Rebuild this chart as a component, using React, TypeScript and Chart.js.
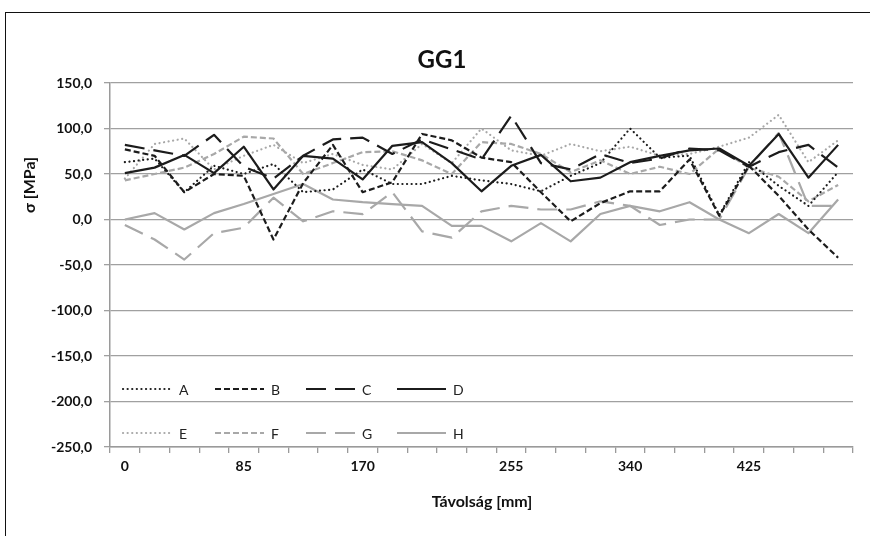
import React, { useEffect, useRef } from 'react';
import { Chart, registerables } from 'chart.js';

Chart.register(...registerables);

// ---- data ----
const distanceLabels = ['0', '', '', '', '85', '', '', '', '170', '', '', '', '', '255', '', '', '', '340', '', '', '', '425', '', '', ''];
const seriesNames = ['A', 'B', 'C', 'D', 'E', 'F', 'G', 'H'];
const seriesA = [63, 67, 30, 59, 50, 61, 30, 33, 55, 39, 39, 48, 43, 39, 31, 48, 62, 100, 68, 70, 5, 63, 37, 15, 52];
const seriesB = [77, 70, 30, 50, 48, -22, 40, 82, 30, 41, 94, 87, 68, 63, 30, -2, 18, 31, 31, 66, 4, 59, 26, -11, -42];
const seriesC = [82, 76, 70, 93, 58, 45, 70, 88, 90, 72, 88, 77, 66, 114, 62, 55, 72, 62, 67, 78, 76, 58, 74, 82, 57];
const seriesD = [51, 57, 71, 51, 80, 33, 70, 67, 44, 81, 85, 62, 31, 59, 71, 42, 46, 63, 70, 76, 78, 59, 94, 46, 82];
const seriesE = [45, 83, 89, 55, 70, 82, 62, 72, 60, 55, 83, 62, 100, 76, 70, 83, 75, 80, 70, 72, 80, 90, 115, 63, 87];
const seriesF = [43, 50, 57, 72, 91, 89, 50, 62, 74, 75, 65, 50, 85, 83, 72, 52, 65, 50, 58, 50, 78, 57, 47, 20, 38];
const seriesG = [-6, -22, -44, -15, -9, 24, -2, 9, 6, 30, -13, -20, 9, 15, 11, 11, 20, 15, -6, 0, 0, 58, 95, 15, 15];
const seriesH = [0, 7, -11, 7, 17, 28, 39, 22, 19, 17, 15, -7, -7, -24, -4, -24, 6, 15, 9, 19, 0, -15, 6, -15, 22];
const yMin = -250;
const yMax = 150;
const yStep = 50;
const chartTitle = 'GG1';
const xTitle = 'Távolság [mm]';
const yTitle = 'σ [MPa]';

const allSeries = [seriesA, seriesB, seriesC, seriesD, seriesE, seriesF, seriesG, seriesH];

const BLACK = '#1c1c1c';
const GRAY = '#a8a8a8';
const FONT = 'Lato, "Open Sans", sans-serif';

const styles = [
  { color: BLACK, dash: [0.1, 4.5], cap: 'round' },
  { color: BLACK, dash: [6, 3], cap: 'butt' },
  { color: BLACK, dash: [20, 9], cap: 'butt' },
  { color: BLACK, dash: [], cap: 'butt' },
  { color: GRAY, dash: [0.1, 4.5], cap: 'round' },
  { color: GRAY, dash: [6, 3], cap: 'butt' },
  { color: GRAY, dash: [20, 9], cap: 'butt' },
  { color: GRAY, dash: [], cap: 'butt' },
];

const decorPlugin = {
  id: 'decor',
  afterDatasetsDraw(chart: any) {
    const ctx = chart.ctx as CanvasRenderingContext2D;
    // legend inside plot
    const cols = [123, 215, 306, 397];
    const rows = [389, 433];
    chart.data.datasets.forEach((ds: any, i: number) => {
      const x = cols[i % 4];
      const y = rows[Math.floor(i / 4)];
      ctx.save();
      ctx.strokeStyle = ds.borderColor;
      ctx.lineWidth = ds.borderWidth;
      ctx.setLineDash(ds.borderDash || []);
      ctx.lineCap = ds.borderCapStyle || 'butt';
      ctx.beginPath();
      ctx.moveTo(x, y);
      ctx.lineTo(x + 49, y);
      ctx.stroke();
      ctx.setLineDash([]);
      ctx.fillStyle = '#222';
      ctx.font = `14px ${FONT}`;
      ctx.textBaseline = 'middle';
      ctx.textAlign = 'left';
      ctx.fillText(ds.label, x + 56, y + 1);
      ctx.restore();
    });
  },
  afterDraw(chart: any) {
    const ctx = chart.ctx as CanvasRenderingContext2D;
    ctx.save();
    ctx.fillStyle = '#111';
    ctx.textAlign = 'center';
    ctx.textBaseline = 'middle';
    ctx.font = `bold 24px ${FONT}`;
    ctx.fillText(chartTitle, 442, 60);
    ctx.font = `bold 16px ${FONT}`;
    ctx.fillText(xTitle, 482, 502);
    ctx.translate(30, 185);
    ctx.rotate(-Math.PI / 2);
    ctx.fillText(yTitle, 0, 0);
    ctx.restore();
  },
};

export default function App() {
  const canvasRef = useRef<HTMLCanvasElement | null>(null);

  useEffect(() => {
    const canvas = canvasRef.current;
    if (!canvas) return;
    const chart = new Chart(canvas, {
      type: 'line',
      data: {
        labels: distanceLabels,
        datasets: allSeries.map((values, i) => ({
          label: seriesNames[i],
          data: values,
          borderColor: styles[i].color,
          backgroundColor: styles[i].color,
          borderWidth: 2.2,
          borderDash: styles[i].dash,
          borderCapStyle: styles[i].cap as CanvasLineCap,
          borderJoinStyle: 'round' as CanvasLineJoin,
          pointRadius: 0,
          tension: 0,
          fill: false,
        })),
      },
      options: {
        animation: false,
        responsive: false,
        maintainAspectRatio: false,
        layout: { padding: { left: 0, right: 17, top: 83, bottom: 0 } },
        plugins: {
          legend: { display: false },
          title: { display: false },
          tooltip: { enabled: false },
        },
        scales: {
          x: {
            type: 'category',
            offset: true,
            grid: {
              offset: true,
              drawOnChartArea: false,
              drawTicks: true,
              tickLength: 6,
              color: '#9a9a9a',
              lineWidth: 1.3,
            },
            border: { color: '#9a9a9a', width: 1.5 },
            ticks: {
              autoSkip: false,
              maxRotation: 0,
              minRotation: 0,
              padding: 5,
              color: '#111',
              font: { family: FONT, size: 14, weight: 'bold' },
            },
            afterFit(scale: any) {
              scale.height = 89;
            },
          },
          y: {
            min: yMin,
            max: yMax,
            ticks: {
              stepSize: yStep,
              padding: 12,
              color: '#111',
              font: { family: FONT, size: 14, weight: 'bold' },
              callback: (v: any) => Number(v).toFixed(1).replace('.', ','),
            },
            grid: {
              color: '#a0a0a0',
              lineWidth: 1.3,
              tickLength: 6,
            },
            border: { color: '#9a9a9a', width: 1.5 },
            afterFit(scale: any) {
              scale.width = 110;
            },
          },
        },
      },
      plugins: [decorPlugin],
    });
    return () => chart.destroy();
  }, []);

  return (
    <div style={{ position: 'fixed', left: 0, top: 0, width: 870, height: 536, background: '#fff', overflow: 'hidden' }}>
      <div
        style={{
          position: 'absolute',
          left: 5,
          top: 12,
          width: 900,
          height: 600,
          border: '1.5px solid #111',
          boxSizing: 'border-box',
        }}
      />
      <canvas ref={canvasRef} width={870} height={536} style={{ position: 'absolute', left: 0, top: 0 }} />
    </div>
  );
}
